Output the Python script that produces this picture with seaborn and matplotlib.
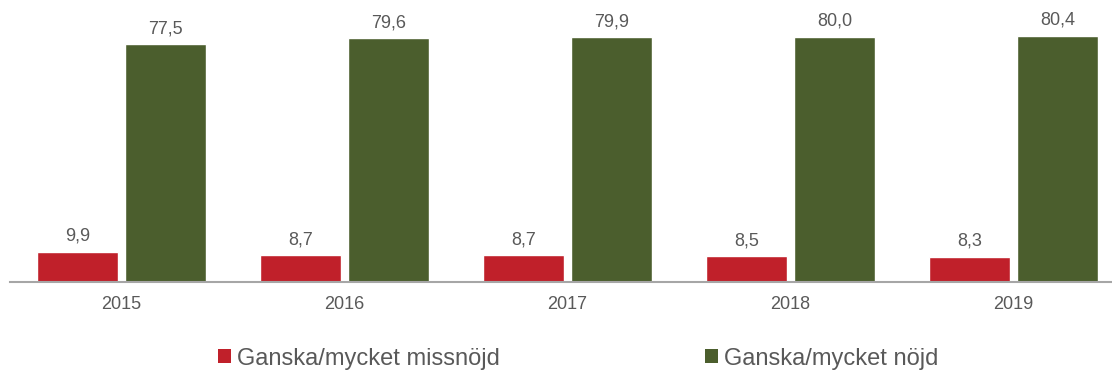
import matplotlib
matplotlib.use("Agg")
import matplotlib.pyplot as plt
from matplotlib.patches import Patch
import seaborn as sns
import pandas as pd

years = ["2015", "2016", "2017", "2018", "2019"]
missnojd = [9.9, 8.7, 8.7, 8.5, 8.3]
nojd = [77.5, 79.6, 79.9, 80.0, 80.4]
series_names = ["Ganska/mycket missnöjd", "Ganska/mycket nöjd"]
colors = ["#C0202A", "#4B5E2D"]

df = pd.DataFrame({
    "year": years * 2,
    "value": missnojd + nojd,
    "series": [series_names[0]] * len(years) + [series_names[1]] * len(years),
})

sns.set_theme(style="white")
plt.rcParams["font.family"] = ["Liberation Sans", "DejaVu Sans"]

fig = plt.figure(figsize=(11.12, 3.72), dpi=100)
ax = fig.add_axes([10 / 1112, 90 / 372, 1115 / 1112, 282 / 372])

sns.barplot(data=df, x="year", y="value", hue="series", palette=colors,
            width=0.79, gap=0.08, ax=ax, legend=False, saturation=1)

for cont, vals in zip(ax.containers, [missnojd, nojd]):
    ax.bar_label(cont, labels=[f"{v:.1f}".replace(".", ",") for v in vals],
                 padding=5, fontsize=13, color="#595959")

ax.set_ylim(0, 92)
ax.set_xlim(-0.5, 4.5)
ax.set_xlabel("")
ax.set_ylabel("")
ax.set_yticks([])
ax.tick_params(axis="x", length=0, labelsize=13, labelcolor="#595959", pad=10)
for s in ["top", "right", "left"]:
    ax.spines[s].set_visible(False)
ax.spines["bottom"].set_color("#A6A6A6")
ax.spines["bottom"].set_linewidth(1.5)

handles = [Patch(facecolor=c, edgecolor="none") for c in colors]
fig.legend(handles, series_names, loc="center left",
           bbox_to_anchor=(218 / 1112, 0.036), borderpad=0, borderaxespad=0,
           ncol=2, frameon=False, fontsize=17, handlelength=0.55,
           handleheight=0.55, handletextpad=0.25, columnspacing=8.7,
           labelcolor="#595959")

fig.savefig("out.png", dpi=100)
